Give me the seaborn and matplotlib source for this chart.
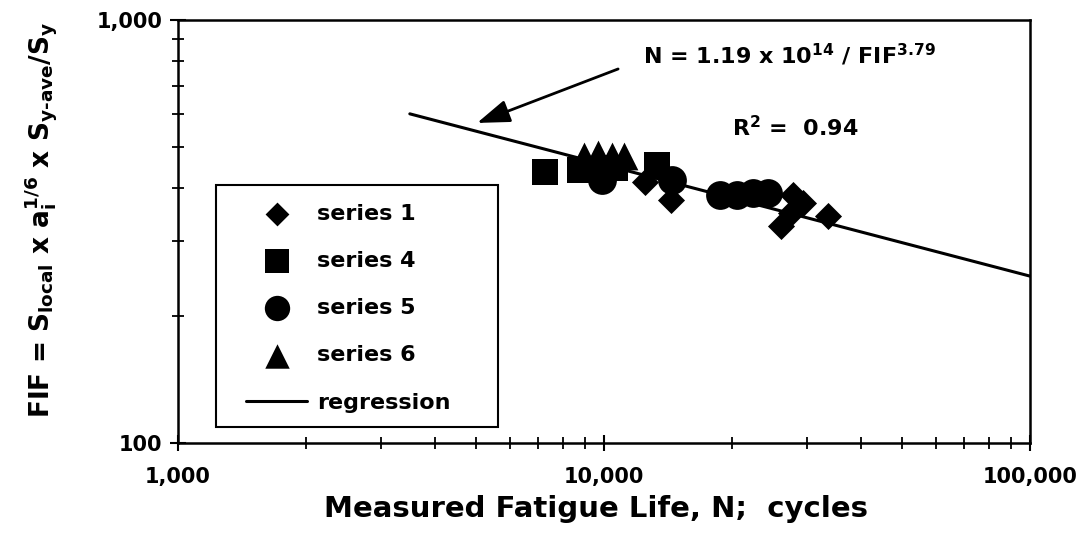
import matplotlib
matplotlib.use('Agg')
from matplotlib import pyplot as plt
from matplotlib.patches import Rectangle
from matplotlib.ticker import FuncFormatter, LogLocator, NullFormatter, FixedLocator
import seaborn as sns

# measured fatigue life (cycles) and FIF values
s1_n = [12480, 14360, 27780, 29310, 27480, 26030, 33570]
s1_fif = [414, 375, 386, 369, 350, 326, 344]

s4_n = [7270, 8780, 10610, 13320]
s4_fif = [437, 442, 447, 454]

s5_n = [9890, 14440, 18720, 20520, 22380, 24270]
s5_fif = [418, 418, 386, 386, 390, 390]

s6_n = [8975, 9680, 10450, 11140]
s6_fif = [477, 482, 477, 477]

reg_n = [3500, 100000]
reg_fif = [600, 248]

x_ticks = [1000, 10000, 100000]
y_ticks = [100, 1000]

sns.set_style('white')
plt.rcParams['font.family'] = ['DejaVu Sans']
plt.rcParams['font.weight'] = 'bold'
plt.rcParams['text.color'] = 'black'
plt.rcParams['axes.labelcolor'] = 'black'
plt.rcParams['xtick.color'] = 'black'
plt.rcParams['ytick.color'] = 'black'
plt.rcParams['mathtext.fontset'] = 'custom'
plt.rcParams['mathtext.rm'] = 'DejaVu Sans:bold'
plt.rcParams['mathtext.it'] = 'DejaVu Sans:bold'
plt.rcParams['mathtext.bf'] = 'DejaVu Sans:bold'
plt.rcParams['mathtext.default'] = 'rm'

fig = plt.figure(figsize=(10.87, 5.42), dpi=100)
ax = fig.add_axes([0.1638, 0.1827, 0.7838, 0.7804])
ax.set_xscale('log')
ax.set_yscale('log')

sns.lineplot(x=reg_n, y=reg_fif, color='black', linewidth=2.2, label='regression', ax=ax, zorder=1)
sns.scatterplot(x=s1_n, y=s1_fif, marker='D', s=190, color='black', edgecolor='black',
                linewidth=0, label='series 1', ax=ax, zorder=3)
sns.scatterplot(x=s4_n, y=s4_fif, marker='s', s=370, color='black', edgecolor='black',
                linewidth=0, label='series 4', ax=ax, zorder=3)
sns.scatterplot(x=s5_n, y=s5_fif, marker='o', s=430, color='black', edgecolor='black',
                linewidth=0, label='series 5', ax=ax, zorder=3)
sns.scatterplot(x=s6_n, y=s6_fif, marker='^', s=400, color='black', edgecolor='black',
                linewidth=0, label='series 6', ax=ax, zorder=4)

ax.set_xlim(1000, 100000)
ax.set_ylim(100, 1000)

fmt = FuncFormatter(lambda v, p: f'{int(round(v)):,}')
ax.xaxis.set_major_locator(FixedLocator(x_ticks))
ax.yaxis.set_major_locator(FixedLocator(y_ticks))
ax.xaxis.set_major_formatter(fmt)
ax.yaxis.set_major_formatter(fmt)
ax.xaxis.set_minor_locator(LogLocator(base=10, subs=range(2, 10)))
ax.yaxis.set_minor_locator(LogLocator(base=10, subs=range(2, 10)))
ax.xaxis.set_minor_formatter(NullFormatter())
ax.yaxis.set_minor_formatter(NullFormatter())

ax.tick_params(axis='both', which='both', bottom=True, left=True, top=False, right=False)
ax.tick_params(axis='both', which='major', direction='inout', length=11, width=1.5,
               labelsize=15, color='black')
ax.tick_params(axis='both', which='minor', direction='inout', length=9, width=1.3, color='black')
ax.tick_params(axis='x', which='major', pad=12)
ax.tick_params(axis='y', which='major', pad=6)
for lab in ax.get_xticklabels() + ax.get_yticklabels():
    lab.set_fontweight('bold')

for sp in ax.spines.values():
    sp.set_visible(True)
    sp.set_color('black')
    sp.set_linewidth(1.8)

ax.set_xlabel('Measured Fatigue Life, N;  cycles', fontsize=21, fontweight='bold')
ax.xaxis.set_label_coords(0.49, -0.122)
ax.set_ylabel(r'FIF = S$_{local}$ x a$_{i}^{1/6}$ x S$_{y\text{-}ave}$/S$_{y}$',
              fontsize=19, fontweight='bold')
ax.yaxis.set_label_coords(-0.138, 0.527)

# equation arrow and labels
ax.annotate('', xy=(5035, 571), xytext=(10790, 766),
            arrowprops=dict(arrowstyle='-|>,head_length=1.0,head_width=0.35',
                            lw=2, color='black', mutation_scale=20,
                            shrinkA=0, shrinkB=0))
ax.text(12350, 826, r'N = 1.19 x 10$^{14}$ / FIF$^{3.79}$', fontsize=16,
        fontweight='bold', va='center', ha='left')
ax.text(19980, 558, r'R$^{2}$ =  0.94', fontsize=16, fontweight='bold',
        va='center', ha='left')

# legend: entries without frame, box drawn as a rectangle
handles, labels = ax.get_legend_handles_labels()
order = ['series 1', 'series 4', 'series 5', 'series 6', 'regression']
hmap = dict(zip(labels, handles))
leg = ax.legend([hmap[k] for k in order], order, loc='upper left',
                bbox_to_anchor=(0.0669, 0.591), frameon=False, borderpad=0.5,
                labelspacing=1.22, handlelength=2.75, handletextpad=0.45,
                borderaxespad=0, markerscale=0.88, prop={'size': 16, 'weight': 'bold'})
ax.add_patch(Rectangle((0.0446, 0.0378), 0.331, 0.572, transform=ax.transAxes,
                       facecolor='white', edgecolor='black', linewidth=1.5, zorder=5))
leg.set_zorder(6)

fig.savefig('out.png', dpi=100, facecolor='white')
